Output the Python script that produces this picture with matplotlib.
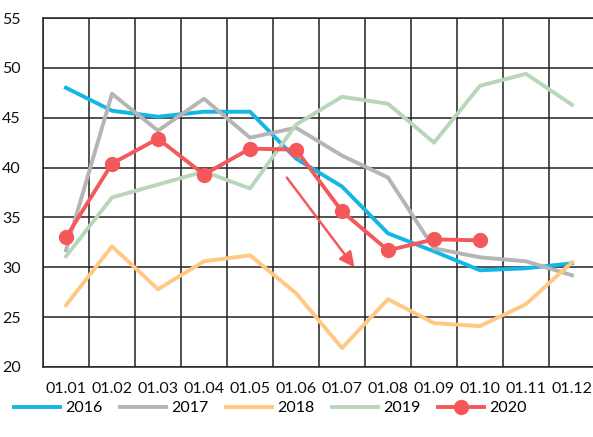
import matplotlib
matplotlib.use("Agg")
import matplotlib.pyplot as plt

plt.rcParams['font.family'] = ['Lato', 'DejaVu Sans']

months = ["01.01", "01.02", "01.03", "01.04", "01.05", "01.06",
          "01.07", "01.08", "01.09", "01.10", "01.11", "01.12"]

s2016 = [48.0, 45.7, 45.1, 45.6, 45.6, 40.9, 38.1, 33.4, 31.6, 29.7, 29.9, 30.4]
s2017 = [31.7, 47.4, 43.7, 46.9, 43.0, 44.0, 41.2, 39.0, 31.9, 31.0, 30.6, 29.2]
s2018 = [26.2, 32.1, 27.8, 30.6, 31.2, 27.4, 21.9, 26.8, 24.4, 24.1, 26.3, 30.5]
s2019 = [31.1, 37.0, 38.3, 39.6, 37.9, 44.3, 47.1, 46.4, 42.5, 48.2, 49.4, 46.3]
s2020 = [33.0, 40.4, 42.9, 39.3, 41.9, 41.8, 35.6, 31.7, 32.8, 32.7]

yticks = [20, 25, 30, 35, 40, 45, 50, 55]

colors = {
    "2016": "#14B6E6",
    "2017": "#B5B5B5",
    "2018": "#FFC982",
    "2019": "#B8D6B9",
    "2020": "#F5585B",
}

W, H = 593, 437
fig = plt.figure(figsize=(W / 100, H / 100), dpi=100)
ax = fig.add_axes([43 / W, (H - 367) / H, 552 / W, 349 / H])

x = list(range(len(months)))
lw = 2.8
ax.plot(x, s2016, color=colors["2016"], lw=lw, label="2016", zorder=3)
ax.plot(x, s2017, color=colors["2017"], lw=lw, label="2017", zorder=3)
ax.plot(x, s2018, color=colors["2018"], lw=lw, label="2018", zorder=3)
ax.plot(x, s2019, color=colors["2019"], lw=lw, label="2019", zorder=3)
ax.plot(x[:len(s2020)], s2020, color=colors["2020"], lw=lw, marker="o",
        markersize=10, label="2020", zorder=4)

# downward trend arrow
ax.annotate("", xy=(6.27, 30.0), xytext=(4.8, 39.0),
            arrowprops=dict(arrowstyle="-|>,head_length=0.9,head_width=0.45",
                            color=colors["2020"], lw=1.8, shrinkA=0, shrinkB=0),
            zorder=5)

ax.set_xlim(-0.5, len(months) - 0.5)
ax.set_ylim(20, 55)
ax.set_yticks(yticks)
ax.set_xticks(x)
ax.set_xticklabels(months)
ax.set_xticks([i + 0.5 for i in range(-1, len(months))], minor=True)
ax.grid(False)
ax.grid(True, which="minor", axis="x", color="#222222", lw=1.1)
ax.grid(True, which="major", axis="y", color="#222222", lw=1.1)
ax.tick_params(axis="both", which="both", length=0, labelsize=11.5, colors="#111111")
ax.tick_params(axis="y", pad=16)
ax.tick_params(axis="x", pad=11)
for side in ["left", "top", "bottom", "right"]:
    ax.spines[side].set_color("#222222")
    ax.spines[side].set_linewidth(1.1)

fig.legend(loc="center left", bbox_to_anchor=(14 / W, (H - 408) / H), ncol=5,
           frameon=False, fontsize=11.5, handlelength=2.9, handletextpad=0.3,
           columnspacing=1.1, borderpad=0, borderaxespad=0)

fig.savefig("out.png", dpi=100)
